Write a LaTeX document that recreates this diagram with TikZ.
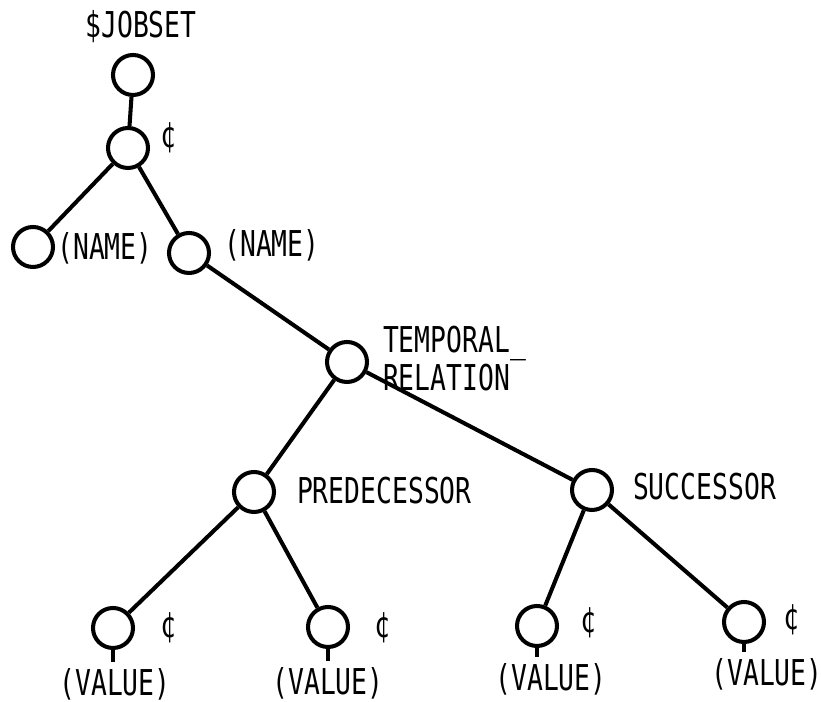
\documentclass[tikz,border=0pt]{standalone}
\usepackage{fontspec}
\setmonofont{DejaVu Sans Mono}
\usepackage{tikz}
\usetikzlibrary{positioning}

\begin{document}
\begin{tikzpicture}[
  vert/.style={circle,draw,line width=2.3pt,minimum size=0.8cm,inner sep=0pt},
  lbl/.style={font=\ttfamily\fontsize{15}{16}\selectfont,inner sep=1pt,yscale=1.35},
  edge/.style={line width=2.3pt}]
\useasboundingbox (0,0) rectangle (16.42,14.04);

% Root and its set node
\node[vert] (root) at (2.66,12.54) {};
\node[lbl] (jobset) at (2.82,13.5) {\$JOBSET};
\node[vert] (set) at (2.56,11.08) {};
\node[lbl] (setc) at (3.36,11.28) {¢};

% Names
\node[vert] (nameA) at (0.66,9.1) {};
\node[lbl] (nameAl) at (2.1,9.08) {(NAME)};
\node[vert] (nameB) at (3.78,8.98) {};
\node[lbl] (nameBl) at (5.44,9.14) {(NAME)};

% Temporal relation
\node[vert] (temp) at (6.94,6.8) {};
\node[lbl,anchor=west,align=left] (templ) at (7.62,6.86) {TEMPORAL\_\\RELATION};

% Predecessor and successor
\node[vert] (pred) at (5.08,4.2) {};
\node[lbl,anchor=west] (predl) at (5.9,4.22) {PREDECESSOR};
\node[vert] (succ) at (11.84,4.24) {};
\node[lbl,anchor=west] (succl) at (12.62,4.3) {SUCCESSOR};

% Values
\node[vert] (valA) at (2.26,1.48) {};
\node[lbl] (valAc) at (3.36,1.48) {¢};
\node[lbl] (valAl) at (2.3,0.36) {(VALUE)};
\node[vert] (valB) at (6.56,1.5) {};
\node[lbl] (valBc) at (7.64,1.48) {¢};
\node[lbl] (valBl) at (6.56,0.38) {(VALUE)};
\node[vert] (valC) at (10.74,1.52) {};
\node[lbl] (valCc) at (11.76,1.58) {¢};
\node[lbl] (valCl) at (11.02,0.46) {(VALUE)};
\node[vert] (valD) at (14.88,1.6) {};
\node[lbl] (valDc) at (15.82,1.64) {¢};
\node[lbl] (valDl) at (15.34,0.56) {(VALUE)};

% Tree edges
\draw[edge] (root) -- (set);
\draw[edge] (set) -- (nameA);
\draw[edge] (set) -- (nameB);
\draw[edge] (nameB) -- (temp);
\draw[edge] (temp) -- (pred);
\draw[edge] (temp) -- (succ);
\draw[edge] (pred) -- (valA);
\draw[edge] (pred) -- (valB);
\draw[edge] (succ) -- (valC);
\draw[edge] (succ) -- (valD);

% Stems down to the values
\foreach \v in {valA,valB,valC,valD}
  \draw[edge,shorten >=2pt] (\v.south) -- (\v.south |- \v l.north);
\end{tikzpicture}
\end{document}
